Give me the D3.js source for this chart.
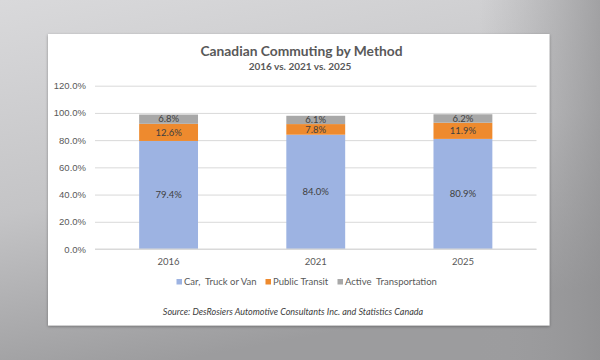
<!DOCTYPE html>
<html>
<head>
<meta charset="utf-8">
<script src="https://cdn.jsdelivr.net/npm/d3@7"></script>
<style>
  body { margin: 0; padding: 0; }
  svg { display: block; font-family: Lato, "Open Sans", sans-serif; }
</style>
</head>
<body>
<div id="chart"></div>
<script>
// data
var years = ['2016', '2021', '2025'];
var seriesNames = ['Car,  Truck or Van', 'Public Transit', 'Active  Transportation'];
var carVals = [79.4, 84.0, 80.9];
var transitVals = [12.6, 7.8, 11.9];
var activeVals = [6.8, 6.1, 6.2];
var yTicks = [0, 20, 40, 60, 80, 100, 120];

var colors = ['#9db3e2', '#ee8a2e', '#a8a8a8'];

var W = 600, H = 360;

var svg = d3.select('#chart')
  .append('svg')
    .attr('width', W)
    .attr('height', H);

// background gradients (grey backdrop)
var defs = svg.append('defs');
var bg = defs.append('linearGradient')
    .attr('id', 'bg')
    .attr('x1', 0).attr('y1', 0).attr('x2', 0.3).attr('y2', 1);
bg.append('stop').attr('offset', '0%').attr('stop-color', '#d9d9db');
bg.append('stop').attr('offset', '55%').attr('stop-color', '#c4c4c6');
bg.append('stop').attr('offset', '100%').attr('stop-color', '#9c9c9e');

var side = defs.append('linearGradient')
    .attr('id', 'side')
    .attr('x1', 0).attr('y1', 0).attr('x2', 1).attr('y2', 0);
side.append('stop').attr('offset', '0%').attr('stop-color', '#a0a0a2').attr('stop-opacity', 0);
side.append('stop').attr('offset', '100%').attr('stop-color', '#8e8e90').attr('stop-opacity', 0.7);

var shadow = defs.append('filter').attr('id', 'shadow')
    .attr('x', '-5%').attr('y', '-5%').attr('width', '110%').attr('height', '115%');
shadow.append('feDropShadow')
    .attr('dx', 0).attr('dy', 1).attr('stdDeviation', 1.5)
    .attr('flood-color', '#000').attr('flood-opacity', 0.35);

svg.append('rect').attr('width', W).attr('height', H).attr('fill', 'url(#bg)');
svg.append('rect').attr('x', 480).attr('width', 120).attr('height', H).attr('fill', 'url(#side)');

// white card
var card = { x: 48, y: 34, w: 501.5, h: 291.5 };
svg.append('rect')
    .attr('x', card.x).attr('y', card.y)
    .attr('width', card.w).attr('height', card.h)
    .attr('fill', '#ffffff')
    .attr('filter', 'url(#shadow)');

// titles
svg.append('text')
    .attr('x', 301.5).attr('y', 55.5)
    .attr('text-anchor', 'middle')
    .attr('font-size', 13.8)
    .attr('font-weight', 'bold')
    .attr('fill', '#595959')
    .text('Canadian Commuting by Method');

svg.append('text')
    .attr('x', 300).attr('y', 70)
    .attr('text-anchor', 'middle')
    .attr('font-size', 10)
    .attr('font-weight', 'bold')
    .attr('fill', '#595959')
    .text('2016 vs. 2021 vs. 2025');

// scales
var x = d3.scaleBand()
  .domain(years)
  .range([95, 536.5])
  .paddingInner(0.6)
  .paddingOuter(0.3);

var y = d3.scaleLinear()
  .domain([0, 120])
  .range([249, 85.7]);

// grid
var yAxis = d3.axisLeft(y)
  .tickValues(yTicks)
  .tickSize(-(536.5 - 95))
  .tickPadding(8)
  .tickFormat(d => d3.format('.1f')(d) + '%');

var gy = svg.append('g')
  .attr('transform', 'translate(95,0)')
  .call(yAxis);
gy.select('.domain').remove();
gy.selectAll('.tick line').attr('stroke', '#d9d9d9').attr('stroke-width', 1);
gy.selectAll('.tick text')
  .attr('fill', '#595959')
  .attr('font-size', 9.5)
  .attr('x', -9);

// stacked bars
var rows = years.map(function(yr, i) {
  return { year: yr, car: carVals[i], transit: transitVals[i], active: activeVals[i] };
});
var keys = ['car', 'transit', 'active'];
var stacked = d3.stack().keys(keys)(rows);

var layers = svg.selectAll('.layer')
  .data(stacked)
  .enter()
  .append('g')
    .attr('class', 'layer')
    .attr('fill', (d, i) => colors[i]);

layers.selectAll('rect')
  .data(d => d)
  .enter()
  .append('rect')
    .attr('x', d => x(d.data.year))
    .attr('y', d => y(d[1]))
    .attr('width', x.bandwidth())
    .attr('height', d => y(d[0]) - y(d[1]));

// data labels
layers.each(function(layer) {
  d3.select(this).selectAll('text')
    .data(layer)
    .enter()
    .append('text')
      .attr('x', d => x(d.data.year) + x.bandwidth() / 2)
      .attr('y', d => (y(d[0]) + y(d[1])) / 2 + 3.3)
      .attr('text-anchor', 'middle')
      .attr('font-size', 9.5)
      .attr('fill', '#404040')
      .text(d => d3.format('.1f')(d.data[layer.key]) + '%');
});

// x axis line and labels
svg.append('line')
  .attr('x1', 95).attr('x2', 536.5)
  .attr('y1', y(0)).attr('y2', y(0))
  .attr('stroke', '#d9d9d9');

svg.selectAll('.xlabel')
  .data(years)
  .enter()
  .append('text')
    .attr('class', 'xlabel')
    .attr('x', d => x(d) + x.bandwidth() / 2)
    .attr('y', 264.5)
    .attr('text-anchor', 'middle')
    .attr('font-size', 9.5)
    .attr('fill', '#595959')
    .text(d => d);

// legend
var legendX = [176.5, 265.5, 337.5];
var legend = svg.selectAll('.legend')
  .data(seriesNames)
  .enter()
  .append('g')
    .attr('class', 'legend')
    .attr('transform', (d, i) => 'translate(' + legendX[i] + ',282)');

legend.append('rect')
  .attr('x', 0).attr('y', -3)
  .attr('width', 5.5).attr('height', 5.5)
  .attr('fill', (d, i) => colors[i]);

legend.append('text')
  .attr('x', 7.5).attr('y', 3.3)
  .attr('font-size', 9.5)
  .attr('fill', '#595959')
  .style('white-space', 'pre')
  .text(d => d);

// source
svg.append('text')
  .attr('x', 293).attr('y', 315)
  .attr('text-anchor', 'middle')
  .attr('font-size', 9)
  .attr('font-style', 'italic')
  .attr('fill', '#404040')
  .text('Source: DesRosiers Automotive Consultants Inc. and Statistics Canada');
</script>
</body>
</html>
